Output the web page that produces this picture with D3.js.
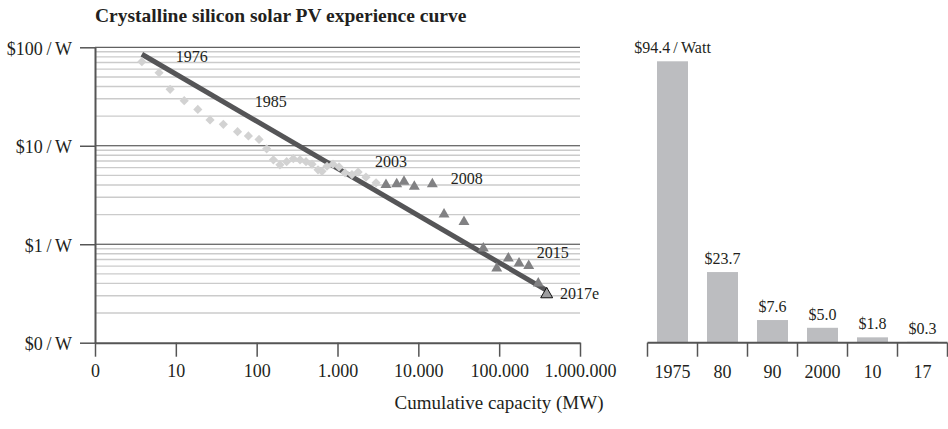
<!DOCTYPE html>
<html>
<head>
<meta charset="utf-8">
<script src="https://cdn.jsdelivr.net/npm/d3@7/dist/d3.min.js"></script>
<style>
  body { margin: 0; background: #fff; }
  svg text { font-family: "Liberation Serif", "DejaVu Serif", serif; fill: #231f20; }
</style>
</head>
<body>
<div id="chart"></div>
<script>
// historical module prices 1976-2002 (diamonds)
var diamondCap = [3.8, 6.2, 8.5, 12.7, 18.7, 26.5, 38.7, 58, 79, 107, 133, 161, 194, 235, 284, 344, 408, 484, 574, 643, 741, 880, 1045, 1240, 1510, 1800, 2250, 3000];
var diamondPrice = [71.4, 55.2, 37.4, 28.7, 23.4, 18.3, 16.5, 13.9, 12.6, 11.6, 9.3, 7.2, 6.4, 6.9, 7.4, 7.2, 6.9, 6.5, 5.7, 5.5, 6.2, 6.5, 6.1, 5.3, 5.1, 5.4, 4.8, 4.2];
// 2003-2017e (triangles), last one is the estimate
var triangleCap = [3980, 5400, 6650, 8920, 14900, 20800, 36700, 63700, 93300, 129800, 176100, 232100, 304800, 387300];
var trianglePrice = [4.00, 4.09, 4.32, 3.84, 4.09, 2.01, 1.69, 0.91, 0.57, 0.72, 0.64, 0.605, 0.40, 0.31];
// experience curve fit
var fitCap = [3.8, 387000];
var fitPrice = [85, 0.34];
// year annotations
var yearLabels = ['1976', '1985', '2003', '2008', '2015', '2017e'];
var yearLabelCap = [10, 95, 2900, 25200, 291000, 566000];
var yearLabelPrice = [71.5, 24.9, 6.1, 4.06, 0.72, 0.278];

var xTicks = [1, 10, 100, 1000, 10000, 100000, 1000000];
var xTickLabels = ['0', '10', '100', '1.000', '10.000', '100.000', '1.000.000'];
var yTicks = [0.1, 1, 10, 100];
var yTickLabels = ['$0\u2009/\u2009W', '$1\u2009/\u2009W', '$10\u2009/\u2009W', '$100\u2009/\u2009W'];

// price per watt bars
var barYears = ['1975', '80', '90', '2000', '10', '17'];
var barPrices = [94.4, 23.7, 7.6, 5.0, 1.8, 0.3];
var barLabels = ['$94.4\u2009/\u2009Watt', '$23.7', '$7.6', '$5.0', '$1.8', '$0.3'];

var width = 948, height = 429;

var svg = d3.select('#chart').append('svg')
  .attr('width', width)
  .attr('height', height);

svg.append('text')
  .attr('x', 95)
  .attr('y', 21.5)
  .style('font-size', '19.5px')
  .style('font-weight', 'bold')
  .text('Crystalline silicon solar PV experience curve');

// ---- left: log-log experience curve ----
var x = d3.scaleLog().domain([1, 1000000]).range([95, 580]);
var y = d3.scaleLog().domain([0.1, 100]).range([342.7, 47.3]);

var minor = y.ticks().filter(function(d) {
  return Math.abs(Math.log10(d) - Math.round(Math.log10(d))) > 1e-6;
});

svg.append('g').selectAll('line')
  .data(minor)
  .join('line')
  .attr('x1', x.range()[0])
  .attr('x2', x.range()[1])
  .attr('y1', function(d) { return y(d); })
  .attr('y2', function(d) { return y(d); })
  .style('stroke', '#cbcbcb')
  .style('stroke-width', 1.4);

svg.append('g').selectAll('line')
  .data(yTicks.slice(1))
  .join('line')
  .attr('x1', x.range()[0])
  .attr('x2', x.range()[1])
  .attr('y1', function(d) { return y(d); })
  .attr('y2', function(d) { return y(d); })
  .style('stroke', '#3a3a3a')
  .style('stroke-width', 1);

var yAxis = svg.append('g')
  .attr('transform', 'translate(' + x.range()[0] + ',0)')
  .call(d3.axisLeft(y).tickValues(yTicks)
    .tickFormat(function(d, i) { return yTickLabels[i]; })
    .tickSize(15).tickSizeOuter(0).tickPadding(8));

var xAxis = svg.append('g')
  .attr('transform', 'translate(0,' + y.range()[0] + ')')
  .call(d3.axisBottom(x).tickValues(xTicks)
    .tickFormat(function(d, i) { return xTickLabels[i]; })
    .tickSize(14).tickSizeOuter(0).tickPadding(8));

[yAxis, xAxis].forEach(function(ax) {
  ax.attr('font-size', null).attr('font-family', null);
  ax.select('.domain').style('stroke', '#555').style('stroke-width', 2);
  ax.selectAll('.tick line').style('stroke', '#555').style('stroke-width', 1.5);
  ax.selectAll('.tick text').style('font-size', '18px');
});
yAxis.selectAll('.tick text').attr('dy', '0.38em');

var fit = d3.line()
  .x(function(d) { return x(d[0]); })
  .y(function(d) { return y(d[1]); });

svg.append('path')
  .datum(d3.zip(fitCap, fitPrice))
  .attr('d', fit)
  .style('fill', 'none')
  .style('stroke', '#555557')
  .style('stroke-width', 5);

svg.append('g').selectAll('path')
  .data(d3.zip(diamondCap, diamondPrice))
  .join('path')
  .attr('d', d3.symbol(d3.symbolSquare, 42))
  .attr('transform', function(d) {
    return 'translate(' + x(d[0]) + ',' + y(d[1]) + ') rotate(45)';
  })
  .style('fill', '#d2d2d2');

var last = triangleCap.length - 1;
svg.append('g').selectAll('path')
  .data(d3.zip(triangleCap, trianglePrice))
  .join('path')
  .attr('d', function(d, i) {
    return d3.symbol(d3.symbolTriangle, i === last ? 62 : 52)();
  })
  .attr('transform', function(d) {
    return 'translate(' + x(d[0]) + ',' + y(d[1]) + ')';
  })
  .style('fill', function(d, i) { return i === last ? '#9d9d9f' : '#818183'; })
  .style('stroke', function(d, i) { return i === last ? '#111' : 'none'; })
  .style('stroke-width', 1);

svg.append('g').selectAll('text')
  .data(yearLabels)
  .join('text')
  .attr('x', function(d, i) { return x(yearLabelCap[i]); })
  .attr('y', function(d, i) { return y(yearLabelPrice[i]); })
  .style('font-size', '16px')
  .text(function(d) { return d; });

svg.append('text')
  .attr('x', 499)
  .attr('y', 409)
  .attr('text-anchor', 'middle')
  .style('font-size', '19px')
  .text('Cumulative capacity (MW)');

// ---- right: price bars ----
var bx = d3.scaleBand().domain(barYears).range([647.5, 947.5])
  .paddingInner(0.38).paddingOuter(0.19);
var by = d3.scaleLinear().domain([0, 100]).range([342.7, 44.6]);

svg.append('g').selectAll('rect')
  .data(barPrices)
  .join('rect')
  .attr('x', function(d, i) { return bx(barYears[i]); })
  .attr('width', bx.bandwidth())
  .attr('y', function(d) { return by(d); })
  .attr('height', function(d) { return by(0) - by(d); })
  .style('fill', '#bcbdc0');

svg.append('g').selectAll('text')
  .data(barPrices)
  .join('text')
  .attr('x', function(d, i) { return bx(barYears[i]) + bx.bandwidth() / 2; })
  .attr('y', function(d) { return by(d) - 8; })
  .attr('text-anchor', 'middle')
  .style('font-size', '16px')
  .text(function(d, i) { return barLabels[i]; });

var bAxis = svg.append('g')
  .attr('transform', 'translate(0,' + by(0) + ')');

bAxis.append('line')
  .attr('x1', bx.range()[0])
  .attr('x2', bx.range()[1])
  .style('stroke', '#555')
  .style('stroke-width', 2);

bAxis.selectAll('.edge')
  .data(d3.range(barYears.length + 1))
  .join('line')
  .attr('class', 'edge')
  .attr('x1', function(i) { return bx.range()[0] + i * bx.step(); })
  .attr('x2', function(i) { return bx.range()[0] + i * bx.step(); })
  .attr('y2', 14)
  .style('stroke', '#555')
  .style('stroke-width', 1.5);

bAxis.selectAll('.cat')
  .data(barYears)
  .join('text')
  .attr('class', 'cat')
  .attr('x', function(d) { return bx(d) + bx.bandwidth() / 2; })
  .attr('y', 35)
  .attr('text-anchor', 'middle')
  .style('font-size', '18px')
  .text(function(d) { return d; });
</script>
</body>
</html>
